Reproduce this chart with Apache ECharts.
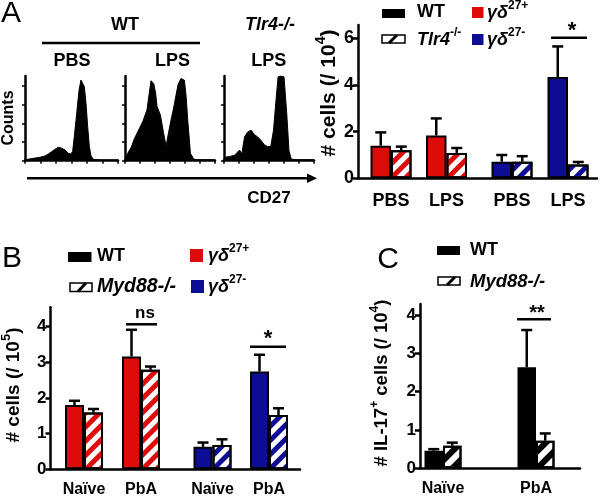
<!DOCTYPE html>
<html><head><meta charset="utf-8">
<script src="https://cdn.jsdelivr.net/npm/echarts@6/dist/echarts.min.js"></script>
<style>html,body{margin:0;padding:0;background:#fff}#c{width:600px;height:498px}</style>
</head><body><div id="c"></div>
<script>
// ---------------- DATA ----------------
// Flow histograms (CD27 on x, 0-100; counts as % of axis height)
const histWTPBS = [[0,1],[1.8,1.6],[9,2.8],[16.1,4],[21.5,5.6],[25.1,8],[28.7,10.7],[32.3,13.5],[35.8,15.9],[39.4,14.7],[43,12.7],[46.6,8.7],[49.1,8],[51.2,10.7],[53,28.4],[55.6,56],[58.1,83.5],[60.2,95.3],[62,94.5],[63.8,87.4],[65.6,67.7],[67.4,40.2],[69.2,16.5],[71,5.5],[73.5,1.6],[80.6,0.8],[100,0.8]];
const histWTLPS = [[0,1],[3,8.7],[7,16],[10.4,26],[15,36],[19.7,46],[24.4,60],[27,80],[28.9,94.5],[31.9,91],[34,80],[35.6,64],[39.3,54],[43,32],[45.6,17],[48.2,32],[51.9,52],[54,62],[56.7,77.5],[59,90],[62.2,97],[66,95],[68,75],[69.7,48],[71.5,25],[72.7,8.7],[76.3,2],[80,1],[100,1]];
const histKOLPS = [[0,1],[0.8,4],[6.3,5],[11.8,6.5],[17.3,12.6],[19.8,8],[22.8,28],[26.4,34],[30.1,36],[33.7,31],[37.4,28],[41.1,24],[44.7,19],[48.4,16.5],[52,17],[55,36],[57.5,68],[60.1,99],[63,100],[66.7,99],[69.7,56],[72.2,12],[74.7,2],[80,1],[100,1]];
const histYTicks = [0,22,44,66,88];
const histXTicks = [0,16.67,33.33,50,66.67,83.33,100];

// Panel A bars (# cells / 10^4)
const aCats = ['PBS','LPS'];
const aRedWT = [1.40, 1.84], aRedWTErr = [1.97, 2.57];
const aRedKO = [1.20, 1.09], aRedKOErr = [1.36, 1.30];
const aBlueWT = [0.71, 4.35], aBlueWTErr = [1.00, 5.66];
const aBlueKO = [0.71, 0.59], aBlueKOErr = [0.95, 0.70];
const aTicks = [0,2,4,6];

// Panel B bars (# cells / 10^5)
const bCats = ['Naïve','PbA'];
const bRedWT = [1.80, 3.16], bRedWTErr = [1.92, 3.91];
const bRedKO = [1.59, 2.79], bRedKOErr = [1.69, 2.88];
const bBlueWT = [0.63, 2.74], bBlueWTErr = [0.75, 3.21];
const bBlueKO = [0.68, 1.52], bBlueKOErr = [0.84, 1.71];
const bTicks = [0,1,2,3,4];

// Panel C bars (# IL-17+ cells / 10^4)
const cCats = ['Naïve','PbA'];
const cWT = [0.46, 2.64], cWTErr = [0.50, 3.61];
const cKO = [0.59, 0.72], cKOErr = [0.67, 0.91];
const cTicks = [0,1,2,3,4];

// ---------------- STYLE ----------------
const FF = "'Liberation Sans', Arial, sans-serif";
const RED = '#de0b0b', BLUE = '#0d0d96', BLK = '#000';
const AX = 2.5;
function f(sz, w, st){ return (st||'normal')+' '+(w||'bold')+' '+sz+'px '+FF; }

const grid = [], xAxis = [], yAxis = [], series = [];
function addGrid(g){ grid.push(g); return grid.length-1; }

function hist(left, width, data){
  const gi = addGrid({left, top:76, width, height:84.7});
  xAxis.push({gridIndex:gi, type:'value', min:0, max:100,
    axisLine:{lineStyle:{color:BLK,width:AX}},
    axisTick:{show:true, length:3, customValues:histXTicks, lineStyle:{color:BLK,width:1.5}},
    axisLabel:{show:false}, splitLine:{show:false}});
  yAxis.push({gridIndex:gi, type:'value', min:0, max:100,
    axisLine:{show:true, lineStyle:{color:BLK,width:AX}},
    axisTick:{show:true, length:3, customValues:histYTicks, lineStyle:{color:BLK,width:1.5}},
    axisLabel:{show:false}, splitLine:{show:false}});
  series.push({type:'line', xAxisIndex:gi, yAxisIndex:gi, data, showSymbol:false, silent:true,
    lineStyle:{color:BLK,width:1}, areaStyle:{color:BLK, opacity:1}, z:1});
}
hist(25, 93, histWTPBS);
hist(125, 90, histWTLPS);
hist(224, 90, histKOLPS);

function frame(g, max, ticks, fs){
  const gi = addGrid(g);
  xAxis.push({gridIndex:gi, type:'category', data:[''], axisLine:{lineStyle:{color:BLK,width:AX}},
    axisTick:{show:false}, axisLabel:{show:false}});
  yAxis.push({gridIndex:gi, type:'value', min:0, max,
    axisLine:{show:true, lineStyle:{color:BLK,width:AX}},
    axisTick:{show:true, length:5, customValues:ticks, lineStyle:{color:BLK,width:AX}},
    axisLabel:{customValues:ticks, color:BLK, fontSize:fs, fontWeight:'bold', fontFamily:FF, margin:4},
    splitLine:{show:false}});
  return gi;
}
function barGrid(g, max, cats, fs, margin){
  const gi = addGrid(g);
  xAxis.push({gridIndex:gi, type:'category', data:cats, axisLine:{show:false}, axisTick:{show:false},
    axisLabel:{color:BLK, fontSize:fs, fontWeight:'bold', fontFamily:FF, margin}});
  yAxis.push({gridIndex:gi, type:'value', min:0, max, show:false});
  return gi;
}
function bars(gi, vals, errs, color, hatched, bw, side, period){
  const itemStyle = hatched
    ? {color:'#fff', borderColor:BLK, borderWidth:2,
       decal:{symbol:'rect', symbolSize:1, color, dashArrayX:[1,0], dashArrayY:[period/2, period/2], rotation:-Math.PI/4}}
    : {color, borderColor:BLK, borderWidth:2};
  series.push({type:'bar', xAxisIndex:gi, yAxisIndex:gi, data:vals, barWidth:bw, barGap:'0%',
    itemStyle, silent:true, z:2});
  series.push({type:'custom', xAxisIndex:gi, yAxisIndex:gi, silent:true, z:3,
    data: vals.map((v,i)=>[i, v, errs[i]]),
    renderItem(params, api){
      const b = api.coord([api.value(0), api.value(1)]);
      const e = api.coord([api.value(0), api.value(2)]);
      const x = b[0] + side*bw/2;
      return {type:'group', children:[
        {type:'line', shape:{x1:x,y1:b[1],x2:x,y2:e[1]}, style:{stroke:BLK,lineWidth:2.5}},
        {type:'line', shape:{x1:x-5.5,y1:e[1],x2:x+5.5,y2:e[1]}, style:{stroke:BLK,lineWidth:2.5}}
      ]};
    }});
}

// Panel A bars
const aMax = 6.58;
frame({left:358, top:25, width:239, height:153.3}, aMax, aTicks, 18);
let gi = barGrid({left:363.25, top:25, width:111, height:153.3}, aMax, aCats, 18, 14);
bars(gi, aRedWT, aRedWTErr, RED, false, 20.5, -1, 10);
bars(gi, aRedKO, aRedKOErr, RED, true, 20.5, 1, 10);
gi = barGrid({left:484, top:25, width:112, height:153.3}, aMax, aCats, 18, 14);
bars(gi, aBlueWT, aBlueWTErr, BLUE, false, 20.5, -1, 10);
bars(gi, aBlueKO, aBlueKOErr, BLUE, true, 20.5, 1, 10);

// Panel B bars
const bMax = 4.54;
frame({left:50.5, top:307.3, width:249.5, height:162}, bMax, bTicks, 17);
gi = barGrid({left:55.5, top:307.3, width:114, height:162}, bMax, bCats, 16, 12);
bars(gi, bRedWT, bRedWTErr, RED, false, 19, -1, 10);
bars(gi, bRedKO, bRedKOErr, RED, true, 19, 1, 10);
gi = barGrid({left:184.25, top:307.3, width:113, height:162}, bMax, bCats, 16, 12);
bars(gi, bBlueWT, bBlueWTErr, BLUE, false, 19, -1, 10);
bars(gi, bBlueKO, bBlueKOErr, BLUE, true, 19, 1, 10);

// Panel C bars
const cMax = 4.29;
frame({left:420, top:304, width:160, height:164.3}, cMax, cTicks, 17);
gi = barGrid({left:396.5, top:304, width:186, height:164.3}, cMax, cCats, 16, 12);
bars(gi, cWT, cWTErr, BLK, false, 18.5, -1, 12);
bars(gi, cKO, cKOErr, BLK, true, 18.5, 1, 12);

// ---------------- ANNOTATIONS ----------------
function txt(text, x, y, font, align, rot, rich){
  const el = {type:'text', x, y, rotation:rot||0, silent:true,
    style:{text, font, fill:BLK, textAlign:align||'center', textVerticalAlign:'middle'}};
  if (rich) el.style.rich = rich;
  return el;
}
function line(x1,y1,x2,y2,w){ return {type:'line', silent:true, shape:{x1,y1,x2,y2}, style:{stroke:BLK, lineWidth:w||2.5}}; }
function rect(x,y,w,h,fill,stroke){ return {type:'rect', silent:true, shape:{x,y,width:w,height:h}, style:{fill, stroke:stroke||null, lineWidth:stroke?1.5:0}}; }
const legRich = {
  g:{font:f(18,'bold','italic'), lineHeight:26},
  i:{font:f(18,'bold','italic'), lineHeight:26},
  s:{font:f(12,'bold'), verticalAlign:'top', lineHeight:14}
};
function yRich(sz){ return {
  a:{font:f(sz), lineHeight:Math.round(sz*1.45)},
  s:{font:f(Math.round(sz*0.66)), verticalAlign:'top', lineHeight:Math.round(sz*0.8)}
};}
const R = Math.PI/2;
const graphic = [
  txt('A', 11, 14, f(30,'normal')),
  txt('WT', 125, 25, f(18)),
  line(42, 43, 200, 43, 2.5),
  txt('Tlr4-/-', 270, 25, f(18,'bold','italic')),
  txt('PBS', 72, 61, f(18)), txt('LPS', 172.5, 61, f(18)), txt('LPS', 268.7, 61, f(18)),
  txt('Counts', 9, 118, f(16), 'center', R),
  line(27, 178.3, 309, 178.3, 2.5),
  {type:'polygon', silent:true, shape:{points:[[307,173.5],[317,178.3],[307,183.1]]}, style:{fill:BLK}},
  txt('CD27', 269, 198, f(17)),
  // A legend + y title
  rect(382, 9, 23, 9, BLK),
  txt('WT', 417, 12.5, f(18), 'left'),
  rect(472, 7, 11.5, 11, RED),
  txt('{g|γδ}{s|27+}', 487, 13, f(18), 'left', 0, legRich),
  rect(382, 35, 23, 8, '#fff', BLK), line(389, 43, 397, 35, 3),
  txt('{i|Tlr4}{s|-/-}', 417, 40, f(18), 'left', 0, legRich),
  rect(472, 34, 11.5, 11, BLUE),
  txt('{g|γδ}{s|27-}', 487, 40, f(18), 'left', 0, legRich),
  line(551, 37.7, 587, 37.7, 2.5),
  txt('*', 572, 31, f(22)),
  txt('{a|# cells (/ 10}{s|4}{a|)}', 329, 93, f(21), 'center', R, yRich(21)),
  // B
  txt('B', 12, 259, f(30,'normal')),
  rect(68, 252, 23.5, 10, BLK),
  txt('WT', 97, 256, f(18), 'left'),
  rect(190, 249, 13, 13, RED),
  txt('{g|γδ}{s|27+}', 208, 256, f(18), 'left', 0, legRich),
  rect(70, 283, 22, 8.5, '#fff', BLK), line(78, 291.5, 86, 283, 3),
  txt('Myd88-/-', 97, 287, f(19.5,'bold','italic'), 'left'),
  rect(191, 280, 13, 13, BLUE),
  txt('{g|γδ}{s|27-}', 208, 287, f(18), 'left', 0, legRich),
  line(126, 324.3, 157, 324.3, 2.5),
  txt('ns', 145, 313, f(17)),
  line(250, 346.7, 286, 346.7, 2.5),
  txt('*', 268, 339, f(22)),
  txt('{a|# cells (/ 10}{s|5}{a|)}', 14, 385, f(19), 'center', R, yRich(19)),
  // C
  txt('C', 388, 260, f(30,'normal')),
  rect(437, 246, 23, 9, BLK),
  txt('WT', 470, 250, f(18), 'left'),
  rect(438, 277, 22, 8, '#fff', BLK), line(447, 285, 455, 277, 3),
  txt('Myd88-/-', 470, 282, f(18.5,'bold','italic'), 'left'),
  line(517, 319.3, 551, 319.3, 2.5),
  txt('**', 537, 313, f(20)),
  txt('{a|# IL-17}{s|+}{a| cells (/ 10}{s|4}{a|)}', 382, 383, f(18.5), 'center', R, yRich(18.5))
];

const chart = echarts.init(document.getElementById('c'));
chart.setOption({animation:false, backgroundColor:'#fff', grid, xAxis, yAxis, series, graphic});
</script></body></html>
